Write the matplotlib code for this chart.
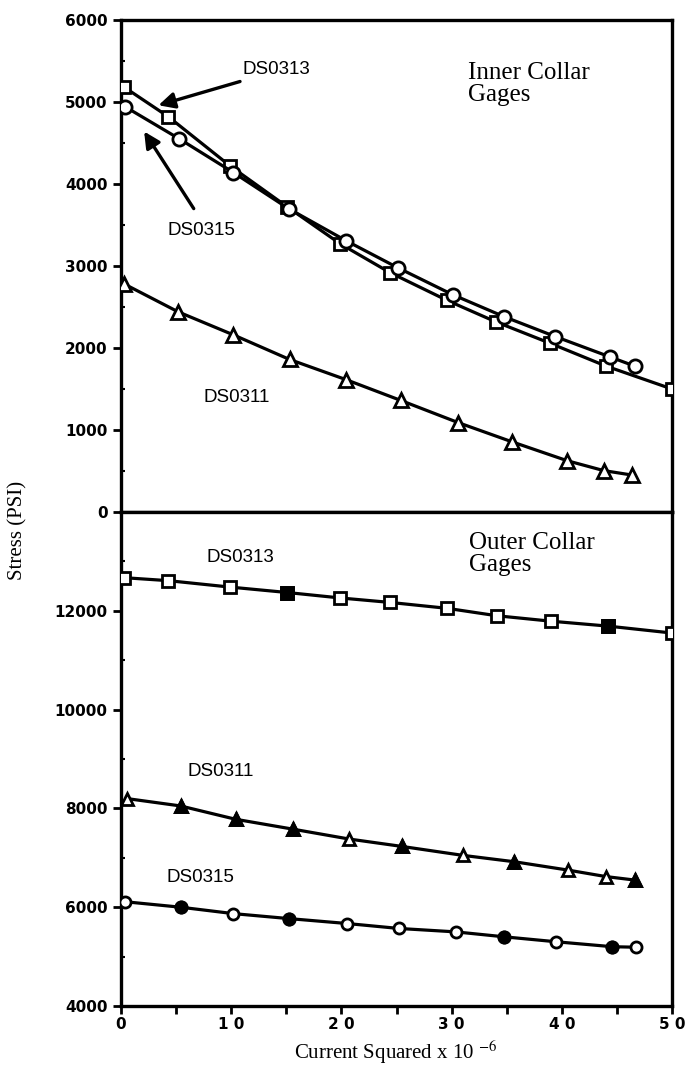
import numpy as np
import matplotlib
matplotlib.use("Agg")
import matplotlib.pyplot as plt

plt.rcParams['mathtext.fontset'] = 'stix'

SANS = 'Liberation Sans'
TICKFONT = 'DejaVu Sans'
SERIF = 'Liberation Serif'

# Inre kragens töjningsgivare (övre panelen)
inner_x_313 = [0.3, 4.3, 9.9, 15.1, 19.9, 24.4, 29.6, 34.0, 38.9, 44.0, 50.0]
inner_y_313 = [5180, 4820, 4220, 3720, 3270, 2920, 2580, 2320, 2060, 1780, 1500]
inner_x_315 = [0.4, 5.3, 10.2, 15.2, 20.4, 25.1, 30.1, 34.8, 39.4, 44.4, 46.6]
inner_y_315 = [4940, 4550, 4140, 3700, 3310, 2980, 2650, 2380, 2140, 1890, 1780]
inner_x_311 = [0.3, 5.2, 10.2, 15.3, 20.4, 25.4, 30.6, 35.5, 40.5, 43.8, 46.4]
inner_y_311 = [2780, 2440, 2160, 1860, 1615, 1360, 1090, 855, 625, 505, 450]

# Yttre kragens givare (nedre panelen)
outer_x_313 = [0.3, 4.3, 9.9, 15.1, 19.9, 24.4, 29.6, 34.1, 39.0, 44.2, 50.0]
outer_y_313 = [12670, 12610, 12480, 12370, 12260, 12170, 12050, 11900, 11790, 11690, 11550]
outer_x_311 = [0.5, 5.4, 10.4, 15.6, 20.7, 25.5, 31.0, 35.7, 40.6, 44.0, 46.6]
outer_y_311 = [8200, 8050, 7780, 7580, 7380, 7230, 7050, 6920, 6750, 6620, 6550]
outer_x_315 = [0.4, 5.4, 10.2, 15.2, 20.5, 25.2, 30.4, 34.8, 39.5, 44.6, 46.7]
outer_y_315 = [6110, 6000, 5870, 5770, 5670, 5570, 5500, 5400, 5300, 5200, 5190]

# index för fyllda markörer (ser svarta ut i skanningen)
filled_313 = [3, 9]
filled_311 = [1, 2, 3, 5, 7, 10]
filled_315 = [1, 3, 7, 9]

x_ticks = [0, 10, 20, 30, 40, 50]
x_ticklabels = ['0', '1 0', '2 0', '3 0', '4 0', '5 0']
inner_yticks = [0, 1000, 2000, 3000, 4000, 5000, 6000]
outer_yticks = [4000, 6000, 8000, 10000, 12000]


def draw_series(ax, x, y, marker, ms, filled=()):
    ax.plot(x, y, '-', color='black', lw=2.3, marker=marker, ms=ms,
            mfc='white', mec='black', mew=2.0, zorder=3)
    if filled:
        xf = [x[i] for i in filled]
        yf = [y[i] for i in filled]
        ax.plot(xf, yf, ls='none', marker=marker, ms=ms, mfc='black',
                mec='black', mew=2.0, zorder=4)


def style_axis(ax):
    for s in ax.spines.values():
        s.set_linewidth(2.4)
    ax.tick_params(axis='both', which='major', direction='out', length=6,
                   width=2, labelsize=11)
    ax.tick_params(axis='x', which='major', pad=2)
    ax.tick_params(axis='y', which='minor', direction='in', length=3, width=1.5)
    ax.tick_params(axis='x', which='minor', direction='out', length=6, width=2)
    for lab in ax.get_yticklabels() + ax.get_xticklabels():
        lab.set_fontfamily(TICKFONT)
        lab.set_fontweight('bold')


fig = plt.figure(figsize=(6.99, 10.68), dpi=100)
left = 121 / 699
width = (672 - 121) / 699
ax1 = fig.add_axes([left, 1 - 512 / 1068, width, (512 - 20) / 1068])
ax2 = fig.add_axes([left, 1 - 1006 / 1068, width, (1006 - 512) / 1068])

# Övre panel
draw_series(ax1, inner_x_313, inner_y_313, 's', 8.5)
draw_series(ax1, inner_x_315, inner_y_315, 'o', 9.5)
draw_series(ax1, inner_x_311, inner_y_311, '^', 9.5)
ax1.set_xlim(0, 50)
ax1.set_ylim(0, 6000)
ax1.set_yticks(inner_yticks)
ax1.set_yticks(np.arange(500, 6000, 1000), minor=True)
ax1.set_xticks(np.arange(0, 51, 5))
ax1.set_xticklabels([])

ax1.text(11.0, 5400, 'DS0313', fontsize=13.5, family=SANS, va='center')
ax1.annotate('', xy=(3.4, 4960), xytext=(10.8, 5250),
             arrowprops=dict(arrowstyle='-|>', lw=2.4, color='black',
                             mutation_scale=24, shrinkA=0, shrinkB=0))
ax1.text(4.2, 3430, 'DS0315', fontsize=13.5, family=SANS, va='center')
ax1.annotate('', xy=(2.1, 4640), xytext=(6.6, 3700),
             arrowprops=dict(arrowstyle='-|>', lw=2.4, color='black',
                             mutation_scale=24, shrinkA=0, shrinkB=0))
ax1.text(7.5, 1400, 'DS0311', fontsize=13.5, family=SANS, va='center')
ax1.text(31.5, 5220, 'Inner Collar\nGages', fontsize=18, family=SERIF,
         va='center', linespacing=1.0)

# Nedre panel
draw_series(ax2, outer_x_313, outer_y_313, 's', 8, filled_313)
draw_series(ax2, outer_x_311, outer_y_311, '^', 8.5, filled_311)
draw_series(ax2, outer_x_315, outer_y_315, 'o', 8, filled_315)
ax2.set_xlim(0, 50)
ax2.set_ylim(4000, 14000)
ax2.set_yticks(outer_yticks)
ax2.set_yticks(np.arange(5000, 14000, 2000), minor=True)
ax2.set_xticks(x_ticks)
ax2.set_xticklabels(x_ticklabels)
ax2.set_xticks(np.arange(5, 50, 10), minor=True)

ax2.text(7.8, 13080, 'DS0313', fontsize=13.5, family=SANS, va='center')
ax2.text(6.0, 8750, 'DS0311', fontsize=13.5, family=SANS, va='center')
ax2.text(4.1, 6600, 'DS0315', fontsize=13.5, family=SANS, va='center')
ax2.text(31.6, 13140, 'Outer Collar\nGages', fontsize=18, family=SERIF,
         va='center', linespacing=1.0)

style_axis(ax1)
style_axis(ax2)

fig.text(18 / 699, 1 - 530 / 1068, 'Stress (PSI)', rotation=90, fontsize=15,
         family=SERIF, ha='center', va='center')
fig.text(396 / 699, 1 - 1052 / 1068, r'Current Squared x 10 $^{-6}$',
         fontsize=15, family=SERIF, ha='center', va='center')

fig.savefig('out.png', dpi=100)
